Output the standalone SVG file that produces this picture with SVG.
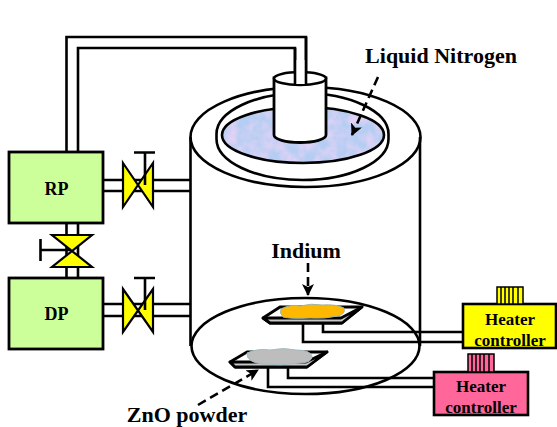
<svg xmlns="http://www.w3.org/2000/svg" width="557" height="427" viewBox="0 0 557 427">
<style>
.l{fill:none;stroke:#000;stroke-width:2.6}
.box{fill:#ccff99;stroke:#000;stroke-width:2.8}
.v{fill:#ffff00;stroke:#000;stroke-width:2.2;stroke-linejoin:miter}
.t{font-family:"Liberation Serif","Times New Roman",serif;font-weight:bold;fill:#000;text-anchor:middle}
.d{fill:none;stroke:#000;stroke-width:2.6;stroke-dasharray:9 5}
.tray{fill:#fff;stroke:#000;stroke-width:2.8;stroke-linejoin:round}
.strip{fill:#c8c8c8;stroke:#000;stroke-width:2.8;stroke-linejoin:round}
</style>
<defs>
<marker id="ah" markerWidth="14" markerHeight="14" refX="11" refY="6" orient="auto" markerUnits="userSpaceOnUse"><path d="M0 0L12 6L0 12L3 6Z" fill="#000"/></marker>
<filter id="sp" x="0" y="0" width="100%" height="100%"><feTurbulence type="fractalNoise" baseFrequency="0.08" numOctaves="3" seed="4"/><feColorMatrix values="0 0 0 0 0.85  0 0 0 0 0.66  0 0 0 0 0.93  1.6 0 0 0 -0.5"/><feComposite in2="SourceGraphic" operator="in"/></filter>
<clipPath id="upper"><rect x="180" y="60" width="250" height="74"/></clipPath>
<clipPath id="lower"><rect x="180" y="139" width="250" height="60"/></clipPath>
</defs>

<g id="connectors">
<path class="l" d="M66.500 152V37H306V85M78 152V48H295V85"/>
<path class="l" d="M103 180H191M103 191H191M103 304H191M103 316H191"/>
<path class="l" d="M66.500 223V278M78 223V278"/>
<path class="l" d="M303 323V342H463M323 323V332H463"/>
<path class="l" d="M268 368V387H434M288 368V378H434"/>
</g>

<g id="chamber">
<path class="l" d="M190.500 137V346M420 137V346"/>
<ellipse class="l" cx="305.500" cy="137" rx="115" ry="50"/>
<ellipse class="l" cx="302.500" cy="134" rx="86" ry="41" clip-path="url(#upper)"/>
<ellipse class="l" cx="302.500" cy="139" rx="86" ry="41" clip-path="url(#lower)"/>
<path class="l" d="M216.500 134V139M388.500 134V139"/>
<ellipse class="l" cx="305.500" cy="346" rx="114" ry="48"/>
</g>

<g id="liquid-nitrogen">
<ellipse cx="303" cy="135" rx="81" ry="28" fill="#b4cdf2"/>
<ellipse cx="303" cy="135" rx="81" ry="28" fill="#fff" filter="url(#sp)"/>
<ellipse class="l" cx="303" cy="135" rx="81" ry="28"/>
</g>

<g id="cold-trap">
<path d="M274 78V135A26 7.500 0 0 0 326 135V78Z" fill="#fff" stroke="#000" stroke-width="2.800"/>
<ellipse cx="300" cy="78.500" rx="26" ry="6.500" fill="#fff" stroke="#000" stroke-width="2.600"/>
<path d="M296 60H305V84H296Z" fill="#fff"/>
<path class="l" d="M295 48V85M306 37V85"/>
</g>

<g id="rp"><rect class="box" x="9" y="152" width="94" height="71"/><text class="t" x="56.500" y="195" font-size="18">RP</text></g>
<g id="dp"><rect class="box" x="9" y="278" width="94" height="71"/><text class="t" x="56.500" y="320" font-size="18">DP</text></g>

<g id="valve-rp">
<path class="v" d="M123 163L153 207V163L123 207Z"/>
<path class="l" d="M134 152.500H155M145 152.500V185"/>
</g>
<g id="valve-dp">
<path class="v" d="M123 289L153 332V289L123 332Z"/>
<path class="l" d="M134 278H155M145 278V310"/>
</g>
<g id="valve-middle">
<path class="v" d="M52 235H92L52 267H92Z"/>
<path class="l" d="M40.500 239V261M40.500 250H71"/>
</g>

<g id="indium-tray">
<path class="tray" d="M263 318L280 307H362L342 323H270Z"/>
<path class="strip" d="M263 318H341L362 307L342 323H270Z"/>
<path d="M281 309Q290 304 300 306Q312 303 322 305Q336 304 344 308Q346 314 338 316Q325 319 310 318Q290 319 283 317Q279 313 281 309Z" fill="#ffb800" stroke="#9fb4a8" stroke-width="1"/>
</g>
<g id="zno-tray">
<path class="tray" d="M230 362L247 352H327L307 367H235Z"/>
<path class="strip" d="M230 362H306L327 352L307 367H235Z"/>
<path d="M247 353Q258 348 270 350Q284 347 296 350Q310 350 312 356Q312 363 300 363Q280 366 262 364Q246 362 247 353Z" fill="#bdbdbd" stroke="#a4bcc4" stroke-width="1"/>
</g>

<g id="heater-yellow">
<rect x="463" y="304" width="93" height="44" fill="#ffff00" stroke="#000" stroke-width="2.600"/>
<rect x="497" y="287" width="26" height="17" fill="#ffff00" stroke="#000" stroke-width="1.500"/>
<path d="M501 287V304M505 287V304M509 287V304M513 287V304M518 287V304" stroke="#000" stroke-width="1.500"/>
<text class="t" x="510" y="325" font-size="17">Heater</text>
<text class="t" x="510" y="346" font-size="17">controller</text>
</g>
<g id="heater-pink">
<rect x="434" y="372" width="94" height="43" fill="#ff6699" stroke="#000" stroke-width="2.600"/>
<rect x="468" y="354" width="26" height="18" fill="#ff6699" stroke="#000" stroke-width="1.500"/>
<path d="M472 354V372M476 354V372M480 354V372M484 354V372M489 354V372" stroke="#000" stroke-width="1.500"/>
<text class="t" x="481" y="392" font-size="17">Heater</text>
<text class="t" x="481" y="413" font-size="17">controller</text>
</g>

<g id="callouts">
<path class="d" d="M378 77L352 135" marker-end="url(#ah)"/>
<path class="d" d="M308 263V295" marker-end="url(#ah)"/>
<path class="d" d="M198 405L258 370" marker-end="url(#ah)"/>
<text class="t" x="441" y="63" font-size="22">Liquid Nitrogen</text>
<text class="t" x="306" y="258" font-size="22">Indium</text>
<text class="t" x="187" y="422" font-size="22">ZnO powder</text>
</g>
</svg>
